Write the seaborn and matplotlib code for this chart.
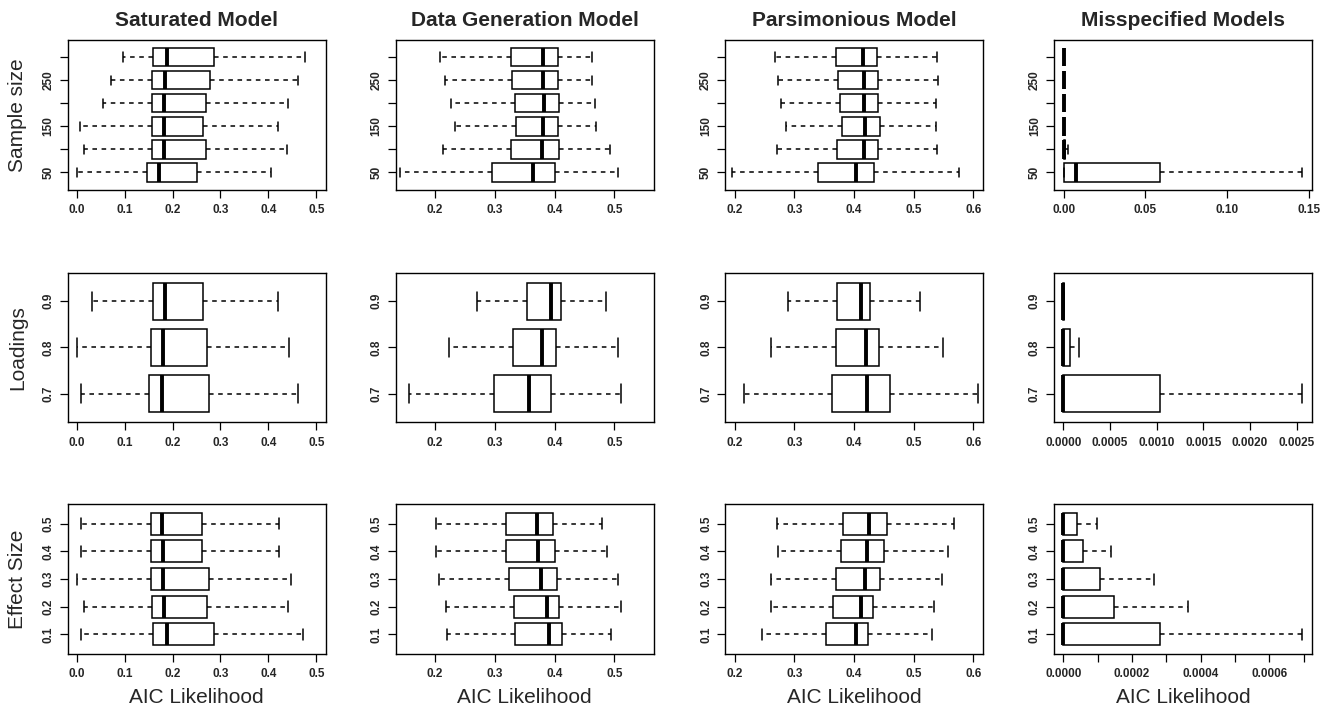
import numpy as np
import pandas as pd
import matplotlib
matplotlib.use("Agg")
import matplotlib.pyplot as plt
import seaborn as sns

# categories (bottom to top, as in the original R plot)
sample_sizes = ["50", "100", "150", "200", "250", "300"]
loadings = ["0.7", "0.8", "0.9"]
effect_sizes = ["0.1", "0.2", "0.3", "0.4", "0.5"]

# five-number summaries [min, q1, median, q3, max] per category
sat_sample = [[0.001, 0.146, 0.172, 0.251, 0.406],
              [0.015, 0.157, 0.183, 0.269, 0.438],
              [0.007, 0.157, 0.182, 0.263, 0.421],
              [0.054, 0.157, 0.183, 0.270, 0.441],
              [0.071, 0.157, 0.185, 0.279, 0.461],
              [0.096, 0.159, 0.188, 0.286, 0.476]]
gen_sample = [[0.141, 0.296, 0.364, 0.400, 0.507],
              [0.214, 0.327, 0.379, 0.407, 0.492],
              [0.233, 0.335, 0.381, 0.406, 0.470],
              [0.227, 0.333, 0.382, 0.407, 0.468],
              [0.217, 0.328, 0.380, 0.406, 0.462],
              [0.209, 0.327, 0.380, 0.406, 0.463]]
par_sample = [[0.196, 0.339, 0.404, 0.434, 0.577],
              [0.271, 0.372, 0.416, 0.440, 0.540],
              [0.286, 0.380, 0.418, 0.443, 0.537],
              [0.278, 0.376, 0.416, 0.441, 0.538],
              [0.272, 0.373, 0.417, 0.441, 0.541],
              [0.267, 0.370, 0.415, 0.438, 0.540]]
mis_sample = [[0.0, 0.0, 0.0078, 0.0588, 0.146],
              [0.0, 0.0, 0.0002, 0.0006, 0.0024],
              [0.0, 0.0, 0.0, 0.0002, 0.0004],
              [0.0, 0.0, 0.0, 0.0002, 0.0004],
              [0.0, 0.0, 0.0, 0.0002, 0.0004],
              [0.0, 0.0, 0.0, 0.0002, 0.0004]]

sat_load = [[0.008, 0.150, 0.177, 0.276, 0.462],
            [0.001, 0.156, 0.180, 0.272, 0.443],
            [0.031, 0.159, 0.185, 0.264, 0.419]]
gen_load = [[0.157, 0.299, 0.357, 0.394, 0.512],
            [0.223, 0.330, 0.379, 0.403, 0.507],
            [0.270, 0.354, 0.394, 0.411, 0.486]]
par_load = [[0.216, 0.363, 0.421, 0.461, 0.608],
            [0.261, 0.370, 0.420, 0.442, 0.549],
            [0.289, 0.372, 0.412, 0.427, 0.510]]
mis_load = [[0.0, 0.0, 0.0, 0.001032, 0.002557],
            [0.0, 0.0, 0.0, 0.000068, 0.000168],
            [0.0, 0.0, 0.0, 0.000004, 0.000008]]

sat_effect = [[0.008, 0.160, 0.188, 0.286, 0.472],
              [0.015, 0.157, 0.183, 0.272, 0.441],
              [0.001, 0.155, 0.181, 0.277, 0.448],
              [0.008, 0.154, 0.180, 0.261, 0.422],
              [0.008, 0.154, 0.177, 0.261, 0.422]]
gen_effect = [[0.220, 0.334, 0.390, 0.412, 0.494],
              [0.218, 0.332, 0.387, 0.408, 0.512],
              [0.206, 0.324, 0.378, 0.404, 0.507],
              [0.201, 0.319, 0.372, 0.401, 0.487],
              [0.201, 0.318, 0.370, 0.397, 0.479]]
par_effect = [[0.245, 0.353, 0.404, 0.424, 0.531],
              [0.261, 0.364, 0.412, 0.432, 0.535],
              [0.261, 0.369, 0.418, 0.443, 0.548],
              [0.273, 0.378, 0.422, 0.450, 0.557],
              [0.270, 0.382, 0.425, 0.456, 0.568]]
mis_effect = [[0.0, 0.0, 0.0, 0.000281, 0.000695],
              [0.0, 0.0, 0.0, 0.000147, 0.000364],
              [0.0, 0.0, 0.0, 0.000106, 0.000264],
              [0.0, 0.0, 0.0, 0.0000563, 0.000138],
              [0.0, 0.0, 0.0, 0.0000388, 0.0000971]]

col_titles = ["Saturated Model", "Data Generation Model", "Parsimonious Model", "Misspecified Models"]
row_labels = ["Sample size", "Loadings", "Effect Size"]
row_cats = [sample_sizes, loadings, effect_sizes]
# only every other sample size gets a label (as in the original)
row_ticklabels = [["50", "", "150", "", "250", ""], loadings, effect_sizes]
panels = [[sat_sample, gen_sample, par_sample, mis_sample],
          [sat_load, gen_load, par_load, mis_load],
          [sat_effect, gen_effect, par_effect, mis_effect]]

col_xticks = [
    [[0, 0.1, 0.2, 0.3, 0.4, 0.5], ["0.0", "0.1", "0.2", "0.3", "0.4", "0.5"]],
    [[0.2, 0.3, 0.4, 0.5], ["0.2", "0.3", "0.4", "0.5"]],
    [[0.2, 0.3, 0.4, 0.5, 0.6], ["0.2", "0.3", "0.4", "0.5", "0.6"]],
]
mis_xticks = [
    [[0, 0.05, 0.10, 0.15], ["0.00", "0.05", "0.10", "0.15"]],
    [[0, 0.0005, 0.0010, 0.0015, 0.0020, 0.0025],
     ["0.0000", "0.0005", "0.0010", "0.0015", "0.0020", "0.0025"]],
    [[0, 0.0001, 0.0002, 0.0003, 0.0004, 0.0005, 0.0006, 0.0007],
     ["0.0000", "", "0.0002", "", "0.0004", "", "0.0006", ""]],
]
col_xlims = [(-0.0188, 0.5195), (0.134, 0.566), (0.184, 0.617)]
mis_xlims = [(-0.0059, 0.1521), (-0.0001, 0.002664), (-0.0000272, 0.000724)]

sns.set_style("ticks")
plt.rcParams["font.family"] = ["Liberation Sans", "DejaVu Sans"]

fig = plt.figure(figsize=(13.32, 7.10), dpi=100)

lefts = [67.7, 395.7, 725.3, 1054.0]
tops = [40.0, 272.7, 504.3]
W, H = 1332.0, 710.0
aw, ah = 258.0, 149.5

for r in range(3):
    cats = row_cats[r]
    n = len(cats)
    for c in range(4):
        ax = fig.add_axes([lefts[c] / W, 1 - (tops[r] + ah) / H, aw / W, ah / H])
        stats = panels[r][c]
        df = pd.DataFrame({"group": np.repeat(cats, 5),
                           "value": np.concatenate(stats)})
        sns.boxplot(data=df, x="value", y="group", order=cats[::-1], orient="h",
                    whis=(0, 100), width=0.8, showfliers=False,
                    color="white", linecolor="black", linewidth=1.1,
                    whiskerprops=dict(linestyle=(0, (3, 3))),
                    medianprops=dict(linewidth=2.8, solid_capstyle="butt"),
                    ax=ax)
        ax.set_ylim(n - 0.5 + 0.04 * n, -0.5 - 0.04 * n)
        if c < 3:
            ticks, labels = col_xticks[c]
            ax.set_xlim(*col_xlims[c])
        else:
            ticks, labels = mis_xticks[r]
            ax.set_xlim(*mis_xlims[r])
        ax.set_xticks(ticks)
        ax.set_xticklabels(labels, fontsize=8.5, fontweight="bold")
        ax.set_yticks(range(n))
        ax.set_yticklabels(row_ticklabels[r][::-1], fontsize=8.5, fontweight="bold",
                           rotation=90, va="center")
        ax.tick_params(axis="both", direction="out", length=5.5, width=0.9, color="black")
        ax.tick_params(axis="x", pad=5)
        ax.tick_params(axis="y", pad=4)
        for sp in ax.spines.values():
            sp.set_visible(True)
            sp.set_linewidth(1.0)
            sp.set_color("black")
        ax.set_ylabel("")
        ax.set_xlabel("")
        if r == 0:
            ax.set_title(col_titles[c], fontsize=15, fontweight="bold", pad=10)
        if c == 0:
            ax.set_ylabel(row_labels[r], fontsize=15, va="center")
            ax.yaxis.set_label_coords(-0.193, 0.5)
        if r == 2:
            ax.set_xlabel("AIC Likelihood", fontsize=15, va="center")
            ax.xaxis.set_label_coords(0.5, -0.29)

fig.savefig("out.png", dpi=100, facecolor="white")
